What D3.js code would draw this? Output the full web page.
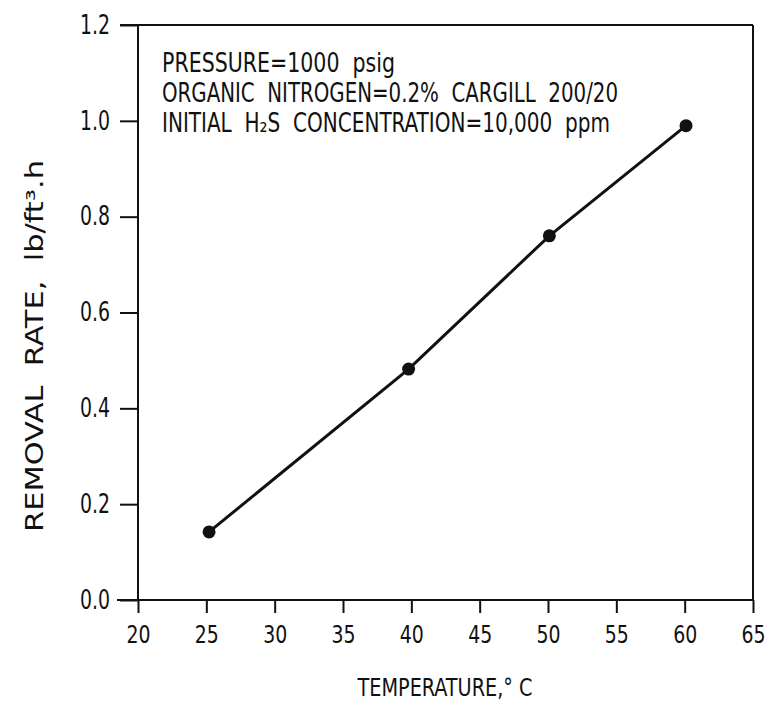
<!DOCTYPE html>
<html>
<head>
<meta charset="utf-8">
<script src="https://cdn.jsdelivr.net/npm/d3@7/dist/d3.min.js"></script>
<style>
  html, body { margin: 0; padding: 0; background: #fff; }
  svg { display: block; }
  text { font-family: "Liberation Sans Narrow", "DejaVu Sans Condensed", "Liberation Sans", sans-serif; fill: #111; }
</style>
</head>
<body>
<svg id="chart" width="769" height="704"></svg>
<script>
// ---- data ----
const temperature = [25.2, 39.8, 50.1, 60.1];
const removalRate = [0.142, 0.482, 0.760, 0.990];
const xTicks = [20, 25, 30, 35, 40, 45, 50, 55, 60, 65];
const yTicks = [0.0, 0.2, 0.4, 0.6, 0.8, 1.0, 1.2];
const noteLine1 = "PRESSURE=1000  psig";
const noteLine2 = "ORGANIC  NITROGEN=0.2%  CARGILL  200/20";
const noteLine3 = "INITIAL  H\u2082S  CONCENTRATION=10,000  ppm";
const xTitle = "TEMPERATURE,\u00B0 C";
const yTitle = "REMOVAL  RATE,  lb/ft\u00B3.h";

const svg = d3.select("#chart");
const mLeft = 138, mRight = 753, mTop = 25, mBottom = 600;

const x = d3.scaleLinear().domain([20, 65]).range([mLeft, mRight]);
const y = d3.scaleLinear().domain([0, 1.2]).range([mBottom, mTop]);

const ink = "#111";
const fontSize = 26;

// y axis
const yAxis = svg.append("g")
  .attr("transform", `translate(${mLeft},0)`)
  .call(d3.axisLeft(y).tickValues(yTicks).tickSize(18).tickSizeOuter(0)
        .tickPadding(10).tickFormat(d3.format(".1f")));
yAxis.select(".domain").remove();
yAxis.selectAll(".tick line").attr("stroke", ink).attr("stroke-width", 2);
yAxis.selectAll(".tick text").style("font-size", fontSize + "px").attr("fill", ink)
  .attr("textLength", 30).attr("lengthAdjust", "spacingAndGlyphs");

// x axis
const xAxis = svg.append("g")
  .attr("transform", `translate(0,${mBottom})`)
  .call(d3.axisBottom(x).tickValues(xTicks).tickSize(13).tickSizeOuter(0)
        .tickPadding(13).tickFormat(d3.format("d")));
xAxis.select(".domain").remove();
xAxis.selectAll(".tick line").attr("stroke", ink).attr("stroke-width", 2);
xAxis.selectAll(".tick text").style("font-size", "24px").attr("fill", ink)
  .attr("textLength", 24).attr("lengthAdjust", "spacingAndGlyphs");

// frame
const frame = svg.append("g").attr("stroke", ink).attr("stroke-width", 2).attr("fill", "none");
frame.append("line").attr("x1", x(20)).attr("x2", x(20)).attr("y1", y(1.2)).attr("y2", y(0));
frame.append("line").attr("x1", x(65)).attr("x2", x(65)).attr("y1", y(1.2)).attr("y2", y(0));
frame.append("line").attr("x1", x(20) - 18).attr("x2", x(65)).attr("y1", y(1.2)).attr("y2", y(1.2));
frame.append("line").attr("x1", x(20) - 21).attr("x2", x(65)).attr("y1", y(0)).attr("y2", y(0));

// data line and markers
const pts = temperature.map((t, i) => [t, removalRate[i]]);
svg.append("path")
  .datum(pts)
  .attr("fill", "none")
  .attr("stroke", ink)
  .attr("stroke-width", 3)
  .attr("d", d3.line().x(d => x(d[0])).y(d => y(d[1])));
svg.append("g").selectAll("circle")
  .data(pts).join("circle")
  .attr("cx", d => x(d[0])).attr("cy", d => y(d[1]))
  .attr("r", 6.5).attr("fill", ink);

// annotation
const note = svg.append("g").style("font-size", fontSize + "px");
[[noteLine1, 72, 233], [noteLine2, 102, 456], [noteLine3, 132, 448]].forEach(([t, yy, w]) => {
  note.append("text").attr("x", 162).attr("y", yy)
    .attr("textLength", w).attr("lengthAdjust", "spacingAndGlyphs")
    .style("white-space", "pre").text(t);
});

// axis titles
svg.append("text")
  .attr("x", 445).attr("y", 696)
  .attr("text-anchor", "middle")
  .attr("textLength", 175).attr("lengthAdjust", "spacingAndGlyphs")
  .style("font-size", "24px")
  .text(xTitle);

svg.append("text")
  .attr("transform", "translate(43,346) rotate(-90)")
  .attr("text-anchor", "middle")
  .attr("textLength", 372).attr("lengthAdjust", "spacingAndGlyphs")
  .style("font-size", "24px")
  .style("white-space", "pre")
  .text(yTitle);
</script>
</body>
</html>
